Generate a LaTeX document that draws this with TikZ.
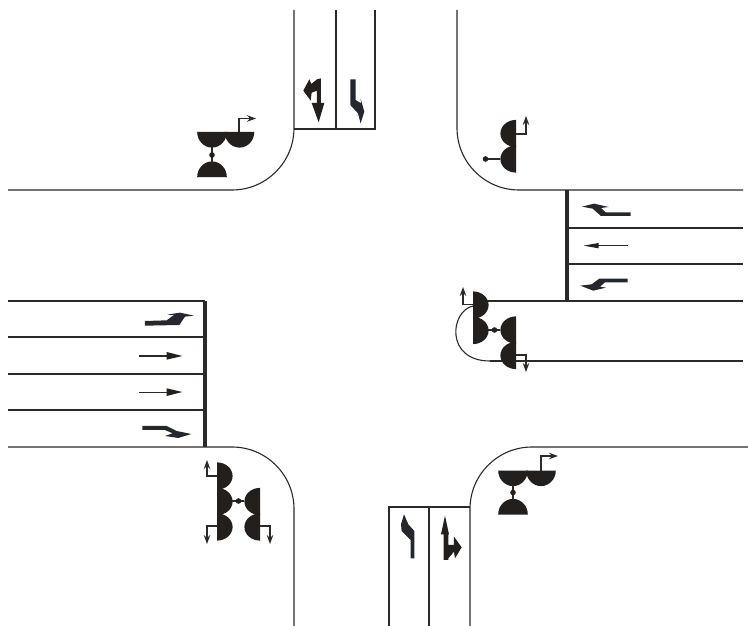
\documentclass[tikz,border=0pt]{standalone}
\usepackage{xcolor}
\usepackage{tikz}
\usetikzlibrary{arrows.meta}
\definecolor{roadink}{HTML}{2B2A28}
\definecolor{lampink}{HTML}{231F1C}
\definecolor{laneink}{HTML}{22282E}
\tikzset{kerb/.style={draw=roadink,line width=1.1pt},
stopbar/.style={draw=roadink,line width=3.4pt},
lanearrow/.style={fill=lampink,draw=none},
lanearrowb/.style={fill=laneink,draw=none},
feed/.style={draw=roadink,line width=1.1pt},
turnfeed/.style={feed,-{Stealth[length=9pt,width=6.5pt]}},
pics/lamp/.style={code={\fill[lampink] (-#1,0) arc[start angle=180,end angle=0,x radius=#1,y radius=15.6] -- cycle;}}}

\begin{document}
\begin{tikzpicture}[x=1pt,y=-1pt]
    \useasboundingbox (0,0) rectangle (748,626);
    \draw[kerb] (8,190) -- (232,190) arc[start angle=90,end angle=0,radius=62] -- (294,10);
    \draw[kerb] (294,129) -- (375,129) -- (375,10);
    \draw[kerb] (336,10) -- (336,129);
    \draw[kerb] (457,10) -- (457,128) arc[start angle=180,end angle=90,radius=62] -- (743,190);
    \draw[kerb] (8,447) -- (232,447) arc[start angle=270,end angle=360,radius=62] -- (294,626);
    \draw[kerb] (389,626) -- (389,507) -- (470,507);
    \draw[kerb] (429,507) -- (429,626);
    \draw[kerb] (470,626) -- (470,509) arc[start angle=180,end angle=270,radius=62] -- (748,447);
    \foreach \y in {301,337,374,410}
        \draw[kerb] (8,\y) -- (205,\y);
    \foreach \y in {228,264}
        \draw[kerb] (567,\y) -- (743,\y);
    \draw[kerb] (480,301) -- (743,301);
    \draw[kerb] (490,361) -- (743,361);
    \draw[kerb] (473,306) .. controls (450,311) and (445,361) .. (490,361);
    \draw[stopbar] (205,301) -- (205,447);
    \draw[stopbar] (567,190) -- (567,301);

    \foreach \x in {212,239.5}
        \pic at (\x,132) {lamp=14.8};
    \pic[rotate=180] at (212,177) {lamp=14.8};
    \draw[feed] (212,147) -- (212,164);
    \fill[lampink] (212,155) circle (2.8);
    \draw[turnfeed] (239,132) -- (239,118.5) -- (256,118.5);

    \foreach \y in {133.5,159}
        \pic[rotate=-90] at (516,\y) {lamp=13.6};
    \draw[feed] (500,159) -- (485,159);
    \fill[lampink] (485.5,159) circle (2.8);
    \draw[turnfeed] (516,134) -- (526,134) -- (526,116);

    \foreach \y in {305,330.5}
        \pic[rotate=90] at (473,\y) {lamp=13.6};
    \foreach \y in {330,355.5}
        \pic[rotate=-90] at (516,\y) {lamp=13.6};
    \draw[feed] (488,330) -- (500,330);
    \fill[lampink] (494.5,330) circle (2.8);
    \draw[turnfeed] (473,304.5) -- (463,304.5) -- (463,287);
    \draw[turnfeed] (516,355) -- (526,355) -- (526,372);

    \foreach \y in {476,501.5,527}
        \pic[rotate=90] at (217,\y) {lamp=13.6};
    \foreach \y in {501.5,527}
        \pic[rotate=-90] at (260,\y) {lamp=13.6};
    \draw[feed] (232,501) -- (244,501);
    \fill[lampink] (238.5,501) circle (2.8);
    \draw[turnfeed] (217,476) -- (207,476) -- (207,460);
    \draw[turnfeed] (217,526) -- (207,526) -- (207,544);
    \draw[turnfeed] (260,526) -- (270,526) -- (270,544);

    \foreach \x in {513,541}
        \pic at (\x,470.5) {lamp=14.8};
    \pic[rotate=180] at (513,514.5) {lamp=14.8};
    \draw[feed] (513,485) -- (513,500);
    \fill[lampink] (513,492.5) circle (2.8);
    \draw[turnfeed] (541,470.5) -- (541,456) -- (558,456);

    \begin{scope}[shift={(190,70)},x=0.3333pt,y=-0.3333pt]
        \fill[lanearrow] (393,25) -- (393,99) -- (403,99) -- (386,157) -- (365,99) -- (381,99) -- (381,62) -- (365,68) -- (362,92) -- (340,62) -- (358,28) -- (364,42) -- (381,28) -- cycle;
        \fill[lanearrowb] (481,28) -- (497,28) -- (497,90) -- (513,100) -- (512,86) -- (523,125) -- (512,160) -- (504,130) -- (481,105) -- cycle;
    \end{scope}
    \begin{scope}[shift={(440,100)},x=0.3333pt,y=-0.3333pt]
        \fill[lanearrowb] (426,320) -- (462,311) -- (506,321) -- (483,324) -- (497,337) -- (572,337) -- (572,348) -- (483,348) -- (458,326) -- cycle;
        \draw[kerb] (563,437) -- (470,437);
        \fill[lanearrow] (431,437) -- (476,429) -- (476,445) -- cycle;
        \fill[lanearrowb] (563,536) -- (563,547) -- (495,547) -- (480,560) -- (498,563) -- (460,572) -- (421,557) -- (455,553) -- (478,536) -- cycle;
    \end{scope}
    \begin{scope}[shift={(130,300)},x=0.3333pt,y=-0.3333pt]
        \fill[lanearrowb] (45,63) -- (110,61) -- (132,45) -- (111,44) -- (150,38) -- (192,47) -- (165,50) -- (148,75) -- (45,77) -- cycle;
        \draw[kerb] (27,168) -- (110,168);
        \fill[lanearrow] (110,156) -- (157,168) -- (110,179) -- cycle;
        \draw[kerb,line width=0.6pt] (27,276) -- (110,276);
        \fill[lanearrow] (110,265) -- (157,276) -- (110,288) -- cycle;
        \fill[lanearrowb] (37,378) -- (110,378) -- (140,393) -- (184,402) -- (145,414) -- (105,408) -- (128,400) -- (105,390) -- (37,390) -- cycle;
    \end{scope}
    \begin{scope}[shift={(385,445)},x=0.3333pt,y=-0.3333pt]
        \fill[lanearrowb] (57,208) -- (70,238) -- (88,258) -- (88,340) -- (77,340) -- (77,285) -- (50,258) -- (48,238) -- cycle;
        \fill[lanearrow] (180,212) -- (192,268) -- (190,268) -- (190,300) -- (207,300) -- (207,275) -- (230,307) -- (210,340) -- (207,320) -- (190,340) -- (190,345) -- (176,345) -- (176,268) -- (168,268) -- cycle;
    \end{scope}
\end{tikzpicture}
\end{document}
